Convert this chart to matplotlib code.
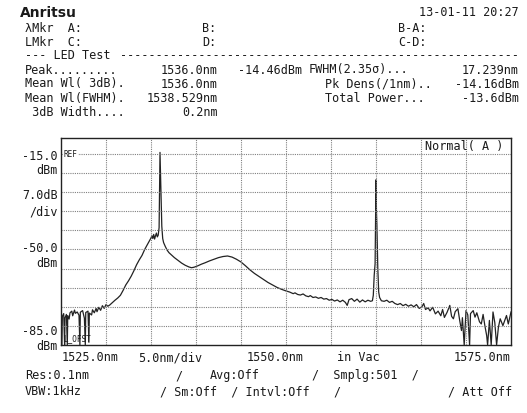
import numpy as np
import matplotlib
matplotlib.use("Agg")
from matplotlib import pyplot as plt

# spectrum trace (nm, dBm)
noise_wl = [1525.0, 1525.1, 1525.15, 1525.3, 1525.4, 1525.45, 1525.6, 1525.7, 1525.75, 1525.9,
            1526.0, 1526.2, 1526.3, 1526.5, 1526.6, 1526.8, 1527.0, 1527.1, 1527.15, 1527.4,
            1527.6, 1527.7, 1527.75, 1528.0, 1528.1, 1528.15, 1528.4, 1528.5, 1528.7, 1528.9,
            1529.0, 1529.2, 1529.4, 1529.6, 1529.8, 1530.0, 1530.2, 1530.4]
noise_db = [-74.0, -85.0, -74.5, -73.5, -85.0, -75.0, -73.8, -85.0, -74.2, -75.5,
            -73.2, -72.6, -74.3, -72.2, -73.4, -72.9, -74.1, -85.0, -73.0, -72.4,
            -75.2, -85.0, -73.1, -72.6, -84.0, -73.3, -74.0, -72.1, -73.2, -71.6,
            -72.8, -71.2, -72.3, -70.6, -71.6, -70.2, -70.8, -70.4]

led_wl = [1530.7, 1531.0, 1531.3, 1531.6, 1531.9, 1532.2, 1532.5, 1532.8, 1533.1, 1533.4,
          1533.7, 1534.0, 1534.3, 1534.6, 1534.8, 1535.0, 1535.1, 1535.2, 1535.3, 1535.4,
          1535.5, 1535.6, 1535.7, 1535.8, 1535.9, 1536.0, 1536.1, 1536.2, 1536.3, 1536.4,
          1536.6, 1536.8, 1537.0, 1537.3, 1537.6, 1538.0, 1538.4, 1538.8, 1539.2, 1539.5,
          1539.8, 1540.2, 1540.6, 1541.0, 1541.5, 1542.0, 1542.5, 1543.0, 1543.5, 1544.0,
          1544.5, 1545.0, 1545.5, 1546.0, 1546.5, 1547.0, 1547.5, 1548.0, 1548.5, 1549.0,
          1549.5, 1550.0]
led_db = [-69.5, -68.6, -67.8, -66.8, -65.0, -63.0, -61.5, -59.8, -57.8, -55.6,
          -53.8, -52.2, -50.0, -48.2, -47.0, -45.8, -45.0, -46.0, -44.5, -46.2,
          -45.0, -44.0, -45.4, -44.8, -42.0, -14.46, -27.5, -41.5, -46.0, -47.5,
          -49.0, -50.3, -51.2, -52.1, -53.0, -54.0, -55.0, -55.8, -56.4, -56.7,
          -56.5, -56.0, -55.4, -54.9, -54.2, -53.6, -53.0, -52.6, -52.4, -52.8,
          -53.6, -54.6, -56.0, -57.5, -58.8, -59.9, -61.0, -62.1, -63.0, -63.9,
          -64.6, -65.2]

tail_wl = [1550.4, 1550.8, 1551.0, 1551.3, 1551.6, 1551.9, 1552.2, 1552.5, 1552.7, 1553.0,
           1553.3, 1553.6, 1553.9, 1554.2, 1554.5, 1554.8, 1555.1, 1555.4, 1555.7, 1556.0,
           1556.3, 1556.6, 1556.8, 1557.0, 1557.3, 1557.6, 1557.9, 1558.2, 1558.5, 1558.8,
           1559.1, 1559.4, 1559.6, 1559.7, 1559.8, 1559.9, 1560.0, 1560.05, 1560.1, 1560.2,
           1560.3, 1560.4, 1560.6, 1560.9, 1561.2, 1561.5, 1561.8, 1562.1, 1562.4, 1562.7,
           1563.0, 1563.3, 1563.6, 1563.9, 1564.2, 1564.5, 1564.8, 1565.1, 1565.3, 1565.5,
           1565.8, 1566.0, 1566.3, 1566.6, 1566.9, 1567.2, 1567.4, 1567.6, 1567.9, 1568.2,
           1568.4, 1568.6, 1568.8, 1569.1, 1569.3, 1569.5, 1569.6, 1569.8, 1570.0, 1570.2,
           1570.4, 1570.5, 1570.8, 1571.0, 1571.2, 1571.5, 1571.7, 1571.9, 1572.1, 1572.3,
           1572.4, 1572.6, 1572.8, 1573.0, 1573.2, 1573.4, 1573.6, 1573.8, 1574.1, 1574.5,
           1574.7, 1575.0]
tail_db = [-65.6, -66.2, -65.9, -66.5, -66.7, -66.3, -67.0, -67.3, -66.9, -67.6,
           -67.4, -67.9, -67.6, -68.2, -68.0, -68.6, -68.3, -68.9, -68.5, -69.2,
           -68.6, -69.4, -70.5, -68.4, -68.0, -69.0, -68.2, -69.3, -68.5, -69.2,
           -68.6, -69.0, -68.8, -66.8, -59.5, -55.2, -24.5, -36.0, -41.0, -57.0,
           -65.6, -67.6, -68.8, -69.0, -68.6, -69.4, -69.0, -69.8, -70.2, -69.8,
           -70.6, -70.1, -70.8, -70.3, -71.0, -70.2, -71.6, -71.0, -69.8, -72.0,
           -71.4, -72.5, -71.2, -73.6, -72.6, -74.3, -72.0, -74.9, -73.0, -70.5,
           -74.5, -75.4, -72.8, -71.7, -76.0, -79.7, -75.0, -85.0, -72.4, -74.0,
           -85.0, -73.5, -72.4, -74.8, -73.2, -76.5, -77.3, -73.8, -78.0, -81.6,
           -85.0, -76.0, -85.0, -72.9, -76.8, -85.0, -78.5, -75.4, -77.9, -74.2,
           -77.3, -72.9]

wl_start, wl_stop, wl_div = 1525.0, 1575.0, 5.0
ref_level, db_div = -15.0, 7.0

W, H = 527, 414


def fp(x, y):
    # pixel position -> figure fraction
    return x / W, 1 - y / H


fig = plt.figure(figsize=(W / 100, H / 100), dpi=100)
fig.patch.set_facecolor("white")
mono = "DejaVu Sans Mono"
tc = "#1a1a1a"

ax = fig.add_axes([61 / W, 1 - 346 / H, 450 / W, 207 / H])
wl = np.array(noise_wl + led_wl + tail_wl)
db = np.array(noise_db + led_db + tail_db)
bottom = ref_level - 10 * db_div
db = np.clip(db, bottom, None)
ax.plot(wl, db, color="#222222", lw=0.9)

ax.set_xlim(wl_start, wl_stop)
ax.set_ylim(bottom, ref_level + 0.83 * db_div)
for i in range(1, 10):
    ax.axvline(wl_start + i * wl_div, color="#808080", lw=0.8, ls=(0, (1, 1)))
for i in range(0, 10):
    ax.axhline(ref_level - i * db_div, color="#808080", lw=0.8, ls=(0, (1, 1)))
ax.set_xticks([])
ax.set_yticks([])
for s in ax.spines.values():
    s.set_linewidth(1.0)
    s.set_color("#222222")

ax.text(1525.25, ref_level, "REF", fontsize=5.5, family=mono, va="center", color=tc,
        bbox=dict(facecolor="white", edgecolor="none", pad=0.3))
ax.text(1525.25, bottom + 1.0, "L_OFST", fontsize=5.5, family=mono, va="bottom", color=tc)
ax.text(1574.2, ref_level + 0.45 * db_div, "Normal( A )", fontsize=8.5, family=mono,
        ha="right", va="center", color=tc)

# left scale labels
fs = 8.5
fig.text(*fp(58, 156), "-15.0", ha="right", va="center", fontsize=fs, family=mono, color=tc)
fig.text(*fp(58, 171), "dBm", ha="right", va="center", fontsize=fs, family=mono, color=tc)
fig.text(*fp(58, 196), "7.0dB", ha="right", va="center", fontsize=fs, family=mono, color=tc)
fig.text(*fp(58, 212), "/div", ha="right", va="center", fontsize=fs, family=mono, color=tc)
fig.text(*fp(58, 249), "-50.0", ha="right", va="center", fontsize=fs, family=mono, color=tc)
fig.text(*fp(58, 264), "dBm", ha="right", va="center", fontsize=fs, family=mono, color=tc)
fig.text(*fp(58, 332), "-85.0", ha="right", va="center", fontsize=fs, family=mono, color=tc)
fig.text(*fp(58, 347), "dBm", ha="right", va="center", fontsize=fs, family=mono, color=tc)

# bottom scale labels
fig.text(*fp(62, 358), "1525.0nm", va="center", fontsize=fs, family=mono, color=tc)
fig.text(*fp(138, 358), "5.0nm/div", va="center", fontsize=fs, family=mono, color=tc)
fig.text(*fp(275, 358), "1550.0nm", ha="center", va="center", fontsize=fs, family=mono, color=tc)
fig.text(*fp(337, 358), "in Vac", va="center", fontsize=fs, family=mono, color=tc)
fig.text(*fp(511, 358), "1575.0nm", ha="right", va="center", fontsize=fs, family=mono, color=tc)

# settings rows
fig.text(*fp(25, 376), "Res:0.1nm", va="center", fontsize=fs, family=mono, color=tc)
fig.text(*fp(175, 376), "/", va="center", fontsize=fs, family=mono, color=tc)
fig.text(*fp(210, 376), "Avg:Off", va="center", fontsize=fs, family=mono, color=tc)
fig.text(*fp(312, 376), "/  Smplg:501  /", va="center", fontsize=fs, family=mono, color=tc)
fig.text(*fp(25, 392), "VBW:1kHz", va="center", fontsize=fs, family=mono, color=tc)
fig.text(*fp(160, 392), "/ Sm:Off  / Intvl:Off", va="center", fontsize=fs, family=mono, color=tc)
fig.text(*fp(333, 392), "/", va="center", fontsize=fs, family=mono, color=tc)
fig.text(*fp(448, 392), "/ Att Off", va="center", fontsize=fs, family=mono, color=tc)

# header
fig.text(*fp(20, 13), "Anritsu", va="center", fontsize=10, family="DejaVu Sans",
         weight="bold", color=tc)
fig.text(*fp(519, 13), "13-01-11 20:27", ha="right", va="center", fontsize=fs, family=mono, color=tc)

rows = [28, 42, 56, 70, 84, 99, 113]
fig.text(*fp(25, rows[0]), "\u03bbMkr  A:", va="center", fontsize=fs, family=mono, color=tc)
fig.text(*fp(202, rows[0]), "B:", va="center", fontsize=fs, family=mono, color=tc)
fig.text(*fp(398, rows[0]), "B-A:", va="center", fontsize=fs, family=mono, color=tc)
fig.text(*fp(25, rows[1]), "LMkr  C:", va="center", fontsize=fs, family=mono, color=tc)
fig.text(*fp(202, rows[1]), "D:", va="center", fontsize=fs, family=mono, color=tc)
fig.text(*fp(398, rows[1]), "C-D:", va="center", fontsize=fs, family=mono, color=tc)
fig.text(*fp(25, rows[2]), "--- LED Test", va="center", fontsize=fs, family=mono, color=tc)
fig.text(*fp(519, rows[2]), "-" * 56, ha="right", va="center", fontsize=fs, family=mono, color=tc)

left_labels = ["Peak.........", "Mean Wl( 3dB).", "Mean Wl(FWHM).", " 3dB Width...."]
left_values = ["1536.0nm", "1536.0nm", "1538.529nm", "0.2nm"]
right_labels = ["FWHM(2.35\u03c3)...", "Pk Dens(/1nm)..", "Total Power..."]
right_values = ["17.239nm", "-14.16dBm", "-13.6dBm"]
peak_level = "-14.46dBm"

for i, (lab, val) in enumerate(zip(left_labels, left_values)):
    y = rows[3 + i]
    fig.text(*fp(25, y), lab, va="center", fontsize=fs, family=mono, color=tc)
    fig.text(*fp(218, y), val, ha="right", va="center", fontsize=fs, family=mono, color=tc)
fig.text(*fp(302, rows[3]), peak_level, ha="right", va="center", fontsize=fs, family=mono, color=tc)
for i, (lab, val) in enumerate(zip(right_labels, right_values)):
    y = rows[3 + i]
    x = 309 if i == 0 else 325
    fig.text(*fp(x, y), lab, va="center", fontsize=fs, family=mono, color=tc)
    fig.text(*fp(519, y), val, ha="right", va="center", fontsize=fs, family=mono, color=tc)

fig.savefig("out.png", dpi=100)
